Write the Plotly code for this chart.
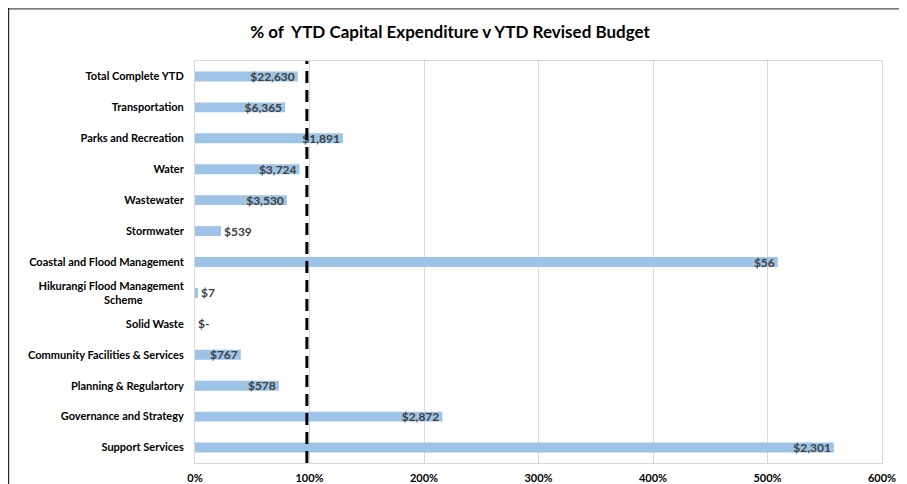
import plotly.graph_objects as go

categories = [
    "Total Complete YTD",
    "Transportation",
    "Parks and Recreation",
    "Water",
    "Wastewater",
    "Stormwater",
    "Coastal and Flood Management",
    "Hikurangi Flood Management<br>Scheme\u2003\u2003\u2003\u2003\u2003",
    "Solid Waste",
    "Community Facilities & Services",
    "Planning & Regulartory",
    "Governance and Strategy",
    "Support Services",
]
pct_of_budget = [89.8, 78.7, 129.2, 91.3, 80.2, 22.7, 509, 2.6, 0, 40, 73.2, 216, 558]
ytd_spend_labels = ["$22,630", "$6,365", "$1,891", "$3,724", "$3,530", "$539", "$56",
                    "$7", "$-", "$767", "$578", "$2,872", "$2,301"]
target_pct = 97.7
x_ticks = [0, 100, 200, 300, 400, 500, 600]
x_tick_labels = ["0%", "100%", "200%", "300%", "400%", "500%", "600%"]

FONT = "Lato, Carlito, 'Open Sans', sans-serif"
LABEL_COLOR = "#404040"

text_pos = ["outside" if v < 30 else "inside" for v in pct_of_budget]

fig = go.Figure()
fig.add_trace(go.Bar(
    y=categories,
    x=pct_of_budget,
    orientation="h",
    marker=dict(color="#9DC3E6", line=dict(width=0)),
    text=["<b>%s</b>" % t for t in ytd_spend_labels],
    textposition=text_pos,
    textangle=0,
    constraintext="none",
    insidetextanchor="end",
    insidetextfont=dict(family=FONT, size=12, color=LABEL_COLOR),
    outsidetextfont=dict(family=FONT, size=12, color=LABEL_COLOR),
    cliponaxis=False,
    hoverinfo="skip",
))

# the page body has an 8px margin, so the figure starts at (8, 8)
OFF = 8
W, H = 907 - OFF, 484 - OFF
L = 195 - OFF
T = 61 - OFF
R = W - (882 - OFF)
B = H - (463 - OFF)
pw, ph = W - L - R, H - T - B

def px_x(p):
    return (p - L) / pw

def px_y(p):
    return (H - B - p) / ph

shapes = [
    dict(type="line", xref="x", yref="paper", x0=target_pct, x1=target_pct, y0=0, y1=1,
         line=dict(color="black", width=3, dash="12px,7px"), layer="above"),
    dict(type="line", xref="paper", yref="paper", x0=px_x(0), x1=px_x(W + 5), y0=px_y(0.8), y1=px_y(0.8),
         line=dict(color="#7F7F7F", width=2)),
    dict(type="line", xref="paper", yref="paper", x0=px_x(0.6), x1=px_x(0.6), y0=px_y(0), y1=px_y(H + 5),
         line=dict(color="#262626", width=1.2)),
]

fig.update_layout(
    width=W, height=H,
    margin=dict(l=L, r=R, t=T, b=B, autoexpand=False),
    paper_bgcolor="white",
    plot_bgcolor="white",
    bargap=0.68,
    showlegend=False,
    font=dict(family=FONT, color="black"),
    title=dict(
        text="<b>% of\u00a0 YTD Capital Expenditure v YTD Revised Budget</b>",
        xref="container", x=(450 - OFF) / W, xanchor="center",
        yref="container", y=1 - (32 - OFF) / H, yanchor="middle",
        font=dict(family=FONT, size=17, color="black"),
    ),
    xaxis=dict(
        range=[0, 600],
        tickvals=x_ticks,
        ticktext=["<b>%s</b>" % t for t in x_tick_labels],
        tickfont=dict(family=FONT, size=11, color="black"),
        showgrid=True, gridcolor="#D9D9D9", gridwidth=1,
        zeroline=False,
        showline=True, linecolor="#D9D9D9", linewidth=1, mirror=True,
        ticks="", ticklabelstandoff=5,
        fixedrange=True,
    ),
    yaxis=dict(
        autorange="reversed",
        tickvals=categories,
        ticktext=["<b>%s</b>" % c for c in categories],
        tickfont=dict(family=FONT, size=11, color="black"),
        showgrid=False, zeroline=False,
        showline=True, linecolor="#D9D9D9", linewidth=1, mirror=True,
        ticks="", ticklabelstandoff=8,
        fixedrange=True,
    ),
    shapes=shapes,
)

fig.write_html("out.html")
